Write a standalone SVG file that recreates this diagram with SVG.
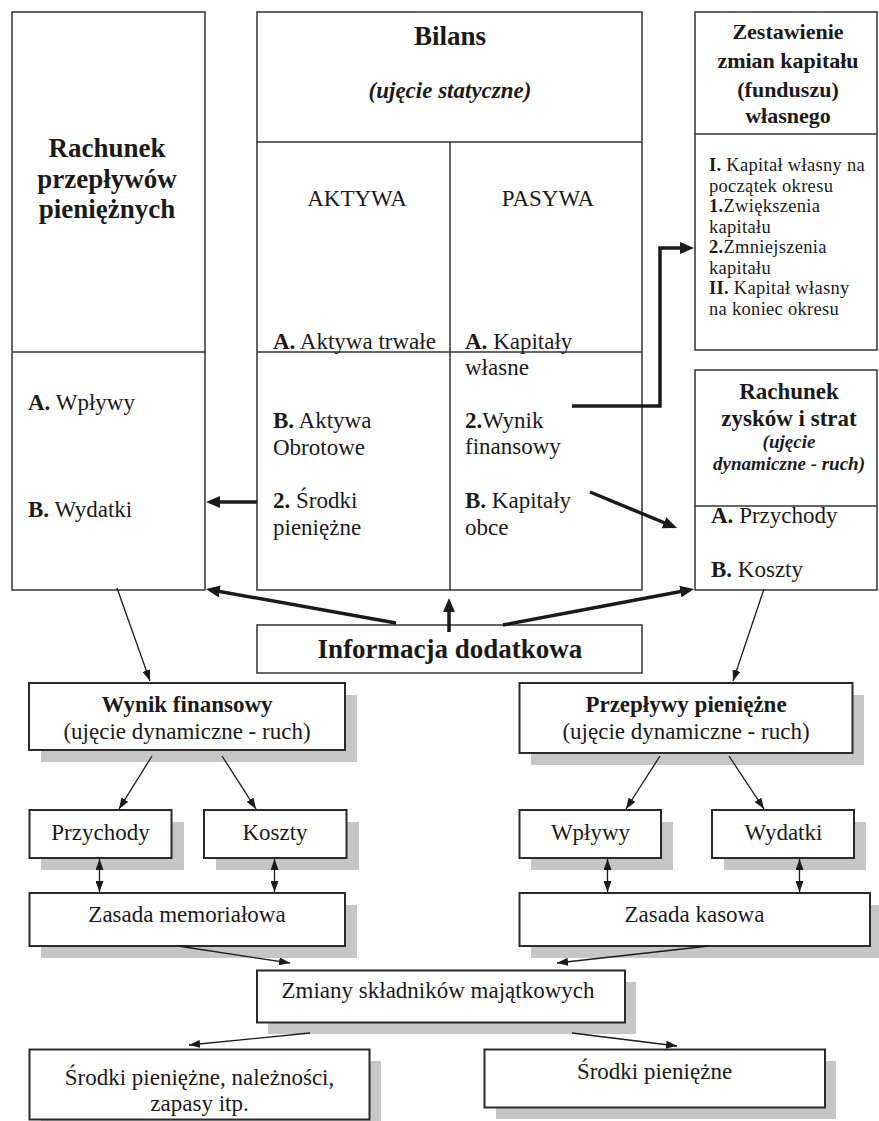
<svg xmlns="http://www.w3.org/2000/svg" width="879" height="1121" viewBox="0 0 879 1121">
<style>
text{font-family:"Liberation Serif","Times New Roman",serif;fill:#1a1a1a}
.box{fill:#fff;stroke:#333;stroke-width:1.5}
.bx2{fill:#fff;stroke:#2a2a2a;stroke-width:2}
.sh{fill:#c6c6c6}
.div{stroke:#333;stroke-width:1.5;fill:none}
.t23{font-size:23px}
.t19{font-size:18.5px;letter-spacing:0.3px}
.b{font-weight:bold}
.bi{font-weight:bold;font-style:italic}
.c{text-anchor:middle}
.thick{stroke:#1a1a1a;stroke-width:3.5;fill:none;marker-end:url(#ahb)}
.thin{stroke:#1a1a1a;stroke-width:1.3;fill:none;marker-end:url(#ahs)}
.dbl{stroke:#1a1a1a;stroke-width:1.3;fill:none;marker-end:url(#ahs);marker-start:url(#ahs2)}
</style>
<defs>
<marker id="ahb" viewBox="0 0 14 12" refX="10" refY="6" markerWidth="14" markerHeight="12" markerUnits="userSpaceOnUse" orient="auto"><path d="M0,0 L14,6 L0,12 z" fill="#1a1a1a"/></marker>
<marker id="ahs" viewBox="0 0 11 8" refX="11" refY="4" markerWidth="11" markerHeight="8" markerUnits="userSpaceOnUse" orient="auto"><path d="M0,0 L11,4 L0,8 z" fill="#1a1a1a"/></marker>
<marker id="ahs2" viewBox="0 0 11 8" refX="0" refY="4" markerWidth="11" markerHeight="8" markerUnits="userSpaceOnUse" orient="auto"><path d="M11,0 L0,4 L11,8 z" fill="#1a1a1a"/></marker>
</defs>

<g id="rachunek-przeplywow">
<rect class="box" x="12" y="12" width="193" height="578"/>
<line class="div" x1="12" y1="352" x2="205" y2="352"/>
<text class="b c" font-size="27" x="107" y="157">Rachunek</text>
<text class="b c" font-size="27" x="107" y="188">przepływów</text>
<text class="b c" font-size="27" x="107" y="218">pieniężnych</text>
<text class="t23" x="28" y="410"><tspan class="b">A.</tspan> Wpływy</text>
<text class="t23" x="28" y="517"><tspan class="b">B.</tspan> Wydatki</text>
</g>

<g id="bilans">
<rect class="box" x="257" y="12" width="385" height="578"/>
<line class="div" x1="257" y1="142" x2="642" y2="142"/>
<line class="div" x1="257" y1="352" x2="642" y2="352"/>
<line class="div" x1="450" y1="142" x2="450" y2="590"/>
<text class="b c" font-size="27" x="450" y="45">Bilans</text>
<text class="bi c" font-size="23" x="450" y="98">(ujęcie statyczne)</text>
<text class="t23 c" x="357" y="206">AKTYWA</text>
<text class="t23 c" x="548" y="206">PASYWA</text>
<text class="t23" x="273" y="349"><tspan class="b">A.</tspan> Aktywa trwałe</text>
<text class="t23" x="273" y="428"><tspan class="b">B.</tspan> Aktywa</text>
<text class="t23" x="273" y="455">Obrotowe</text>
<text class="t23" x="273" y="508"><tspan class="b">2.</tspan> Środki</text>
<text class="t23" x="273" y="535">pieniężne</text>
<text class="t23" x="465" y="349"><tspan class="b">A.</tspan> Kapitały</text>
<text class="t23" x="465" y="375">własne</text>
<text class="t23" x="465" y="428"><tspan class="b">2.</tspan>Wynik</text>
<text class="t23" x="465" y="454">finansowy</text>
<text class="t23" x="465" y="508"><tspan class="b">B.</tspan> Kapitały</text>
<text class="t23" x="465" y="535">obce</text>
</g>

<g id="zestawienie">
<rect class="box" x="695" y="12" width="182" height="338"/>
<line class="div" x1="695" y1="134" x2="877" y2="134"/>
<text class="b c" font-size="22" x="788" y="39">Zestawienie</text>
<text class="b c" font-size="22" x="788" y="68">zmian kapitału</text>
<text class="b c" font-size="22" x="788" y="97">(funduszu)</text>
<text class="b c" font-size="22" x="788" y="123">własnego</text>
<text class="t19" x="709" y="171"><tspan class="b">I.</tspan> Kapitał własny na</text>
<text class="t19" x="709" y="191.5">początek okresu</text>
<text class="t19" x="709" y="212"><tspan class="b">1.</tspan>Zwiększenia</text>
<text class="t19" x="709" y="232.5">kapitału</text>
<text class="t19" x="709" y="253"><tspan class="b">2.</tspan>Zmniejszenia</text>
<text class="t19" x="709" y="273.5">kapitału</text>
<text class="t19" x="709" y="294"><tspan class="b">II.</tspan> Kapitał własny</text>
<text class="t19" x="709" y="314.5">na koniec okresu</text>
</g>

<g id="rachunek-zyskow">
<rect class="box" x="695" y="370" width="182" height="220"/>
<line class="div" x1="695" y1="506" x2="877" y2="506"/>
<text class="b c" font-size="23" x="789" y="399">Rachunek</text>
<text class="b c" font-size="23" x="789" y="426">zysków i strat</text>
<text class="bi c" font-size="19" x="789" y="448">(ujęcie</text>
<text class="bi c" font-size="19" x="789" y="470">dynamiczne - ruch)</text>
<text class="t23" x="711" y="523"><tspan class="b">A.</tspan> Przychody</text>
<text class="t23" x="711" y="577"><tspan class="b">B.</tspan> Koszty</text>
</g>

<g id="informacja">
<rect class="box" x="257" y="625" width="385" height="48"/>
<text class="b c" font-size="27" x="450" y="658">Informacja dodatkowa</text>
</g>

<g id="wynik-finansowy">
<rect class="sh" x="41" y="695" width="316" height="67"/>
<rect class="bx2" x="29" y="683" width="316" height="67"/>
<text class="t23 b c" x="187" y="712">Wynik finansowy</text>
<text class="t23 c" x="187" y="739">(ujęcie dynamiczne - ruch)</text>
</g>

<g id="przeplywy-pieniezne">
<rect class="sh" x="531" y="695" width="333" height="70"/>
<rect class="bx2" x="519.5" y="683" width="333" height="70"/>
<text class="t23 b c" x="686" y="712">Przepływy pieniężne</text>
<text class="t23 c" x="686" y="739">(ujęcie dynamiczne - ruch)</text>
</g>

<g id="przychody">
<rect class="sh" x="41" y="822" width="143" height="48"/>
<rect class="bx2" x="29.5" y="810" width="142" height="48"/>
<text class="t23 c" x="100.5" y="840">Przychody</text>
</g>
<g id="koszty">
<rect class="sh" x="216" y="822" width="143" height="48"/>
<rect class="bx2" x="204" y="810" width="142.5" height="48"/>
<text class="t23 c" x="275" y="840">Koszty</text>
</g>
<g id="wplywy">
<rect class="sh" x="531" y="822" width="142" height="48"/>
<rect class="bx2" x="519.5" y="810" width="141.5" height="48"/>
<text class="t23 c" x="590.5" y="840">Wpływy</text>
</g>
<g id="wydatki">
<rect class="sh" x="724" y="822" width="142" height="48"/>
<rect class="bx2" x="712" y="810" width="142" height="48"/>
<text class="t23 c" x="783.5" y="840">Wydatki</text>
</g>

<g id="zasada-memorialowa">
<rect class="sh" x="41" y="905" width="316" height="53"/>
<rect class="bx2" x="29.5" y="893" width="315.5" height="53"/>
<text class="t23 c" x="187" y="922">Zasada memoriałowa</text>
</g>
<g id="zasada-kasowa">
<rect class="sh" x="531" y="905" width="351" height="53"/>
<rect class="bx2" x="519.5" y="893" width="350.5" height="53"/>
<text class="t23 c" x="694.5" y="922">Zasada kasowa</text>
</g>

<g id="zmiany">
<rect class="sh" x="268" y="982" width="368" height="52"/>
<rect class="bx2" x="257" y="970.5" width="368" height="52"/>
<text class="t23 c" x="438" y="998">Zmiany składników majątkowych</text>
</g>

<g id="srodki-naleznosci">
<rect class="sh" x="41" y="1061" width="340" height="70"/>
<rect class="bx2" x="29.5" y="1049.5" width="340" height="70"/>
<text class="t23 c" x="199.5" y="1085">Środki pieniężne, należności,</text>
<text class="t23 c" x="199.5" y="1111">zapasy itp.</text>
</g>
<g id="srodki-pieniezne">
<rect class="sh" x="496" y="1061" width="340" height="58"/>
<rect class="bx2" x="484.5" y="1049.5" width="340.5" height="58"/>
<text class="t23 c" x="654.5" y="1079">Środki pieniężne</text>
</g>

<g id="connectors">
<line class="thick" x1="257" y1="502" x2="210" y2="502"/>
<polyline class="thick" points="572,406 660,406 660,248 690,248"/>
<line class="thick" x1="590" y1="492" x2="673.3" y2="526.5"/>
<line class="thick" x1="396" y1="623" x2="209.9" y2="589.7"/>
<line class="thick" x1="449" y1="632" x2="449" y2="602"/>
<line class="thick" x1="503" y1="625" x2="690.1" y2="589.7"/>
<line class="thin" x1="117" y1="588" x2="150" y2="681"/>
<line class="thin" x1="764" y1="589" x2="733" y2="681"/>
<line class="thin" x1="152" y1="756" x2="119" y2="809"/>
<line class="thin" x1="222" y1="756" x2="256" y2="809"/>
<line class="thin" x1="660" y1="756" x2="626" y2="809"/>
<line class="thin" x1="729" y1="756" x2="764" y2="809"/>
<line class="dbl" x1="99.5" y1="859" x2="99.5" y2="892"/>
<line class="dbl" x1="274.5" y1="859" x2="274.5" y2="892"/>
<line class="dbl" x1="607.5" y1="859" x2="607.5" y2="892"/>
<line class="dbl" x1="799.5" y1="859" x2="799.5" y2="892"/>
<line class="thin" x1="178" y1="946" x2="290" y2="963"/>
<line class="thin" x1="709" y1="946" x2="557" y2="963"/>
<line class="thin" x1="310" y1="1033" x2="189" y2="1045"/>
<line class="thin" x1="572" y1="1033" x2="677" y2="1046"/>
</g>
</svg>
